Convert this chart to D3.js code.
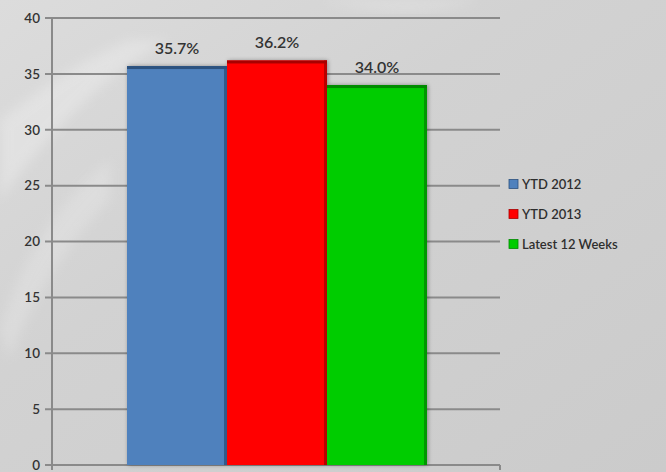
<!DOCTYPE html>
<html>
<head>
<meta charset="utf-8">
<script src="https://cdn.jsdelivr.net/npm/d3@7"></script>
<style>
  html, body { margin: 0; padding: 0; background: #cfcfcf; }
  svg { display: block; }
</style>
</head>
<body>
<svg id="chart" width="666" height="472"></svg>
<script>
// Series shown in the chart
const seriesNames = ["YTD 2012", "YTD 2013", "Latest 12 Weeks"];
const seriesValues = [35.7, 36.2, 34.0];
const seriesLabels = ["35.7%", "36.2%", "34.0%"];
const seriesColors = ["#4f81bd", "#ff0000", "#00cc00"];
const seriesEdges = ["#2c527f", "#a80000", "#008a00"];
const yTicks = [0, 5, 10, 15, 20, 25, 30, 35, 40];

const svg = d3.select("#chart");
const W = 666, H = 472;
const margin = { left: 52, right: 166, top: 18, bottom: 7 };
const plotL = margin.left, plotR = W - margin.right;
const plotT = margin.top, plotB = H - margin.bottom;
const font = "Lato, 'Open Sans', sans-serif";

// Background gradient with soft light streaks
const defs = svg.append("defs");
const bg = defs.append("linearGradient").attr("id", "bg")
  .attr("x1", "0").attr("y1", "0").attr("x2", "1").attr("y2", "1");
bg.append("stop").attr("offset", "0").attr("stop-color", "#dcdcdc");
bg.append("stop").attr("offset", "0.4").attr("stop-color", "#d2d2d2");
bg.append("stop").attr("offset", "1").attr("stop-color", "#cbcbcb");
svg.append("rect").attr("width", W).attr("height", H).attr("fill", "url(#bg)");

const blur = defs.append("filter").attr("id", "soft").attr("x", "-20%").attr("y", "-20%")
  .attr("width", "140%").attr("height", "140%");
blur.append("feGaussianBlur").attr("stdDeviation", 6);

svg.append("path")
  .attr("d", "M0,120 C40,90 80,60 130,40 L170,40 C110,70 50,130 0,200 Z")
  .attr("fill", "#ffffff").attr("opacity", 0.25).attr("filter", "url(#soft)");
svg.append("path")
  .attr("d", "M0,330 C20,260 60,200 110,160 L110,200 C70,240 30,300 10,360 Z")
  .attr("fill", "#ffffff").attr("opacity", 0.18).attr("filter", "url(#soft)");
svg.append("path")
  .attr("d", "M320,0 C360,10 420,20 480,0 Z")
  .attr("fill", "#ffffff").attr("opacity", 0.2).attr("filter", "url(#soft)");

// Scales
const y = d3.scaleLinear().domain([0, 40]).range([plotB, plotT]);
const x = d3.scaleBand().domain(seriesNames).range([127, 427]).padding(0);

// Gridlines
svg.append("g").selectAll("line").data(yTicks).join("line")
  .attr("x1", plotL - 7).attr("x2", plotR)
  .attr("y1", d => y(d)).attr("y2", d => y(d))
  .attr("stroke", "#8a8a8a").attr("stroke-width", 2);

// Axis lines
svg.append("line").attr("x1", plotL).attr("x2", plotL)
  .attr("y1", plotT).attr("y2", plotB + 5)
  .attr("stroke", "#8a8a8a").attr("stroke-width", 2);
svg.append("line").attr("x1", plotR).attr("x2", plotR)
  .attr("y1", plotB).attr("y2", plotB + 5)
  .attr("stroke", "#8a8a8a").attr("stroke-width", 2);

// Y tick labels
const yAxis = d3.axisLeft(y).tickValues(yTicks).tickSize(0).tickPadding(12);
const yg = svg.append("g").attr("transform", `translate(${plotL},0)`).call(yAxis);
yg.select(".domain").remove();
yg.selectAll("text")
  .attr("font-family", font).attr("font-weight", 600)
  .attr("font-size", 13.5).attr("fill", "#333333");

// Bar shadow
const sh = defs.append("filter").attr("id", "shadow").attr("x", "-10%").attr("y", "-10%")
  .attr("width", "120%").attr("height", "120%");
sh.append("feGaussianBlur").attr("in", "SourceAlpha").attr("stdDeviation", 2);
sh.append("feOffset").attr("dx", 1).attr("dy", 0).attr("result", "b");
sh.append("feComponentTransfer").append("feFuncA").attr("type", "linear").attr("slope", 0.35);
const merge = sh.append("feMerge");
merge.append("feMergeNode");
merge.append("feMergeNode").attr("in", "SourceGraphic");

const data = seriesNames.map((n, i) => ({
  name: n, value: seriesValues[i], label: seriesLabels[i],
  color: seriesColors[i], edge: seriesEdges[i]
}));

const bars = svg.append("g");
bars.selectAll("rect.bar").data(data).join("rect")
  .attr("class", "bar")
  .attr("x", d => x(d.name))
  .attr("y", d => y(d.value))
  .attr("width", x.bandwidth())
  .attr("height", d => y(0) - y(d.value))
  .attr("fill", d => d.color)
  .attr("filter", "url(#shadow)");

// Darker bevel along the top and right of each bar
bars.selectAll("rect.top").data(data).join("rect")
  .attr("x", d => x(d.name))
  .attr("y", d => y(d.value))
  .attr("width", x.bandwidth())
  .attr("height", 3)
  .attr("fill", d => d.edge);
bars.selectAll("rect.right").data(data).join("rect")
  .attr("x", d => x(d.name) + x.bandwidth() - 3)
  .attr("y", d => y(d.value))
  .attr("width", 3)
  .attr("height", d => y(0) - y(d.value))
  .attr("fill", d => d.edge).attr("opacity", 0.8);

// Value labels
svg.append("g").selectAll("text").data(data).join("text")
  .attr("x", d => x(d.name) + x.bandwidth() / 2)
  .attr("y", d => y(d.value) - 12)
  .attr("text-anchor", "middle")
  .attr("font-family", font).attr("font-weight", 600)
  .attr("font-size", 16).attr("fill", "#333333")
  .text(d => d.label);

// Legend
const legend = svg.append("g").attr("transform", "translate(509,0)");
const rowY = [184, 214, 244];
const lg = legend.selectAll("g").data(data).join("g")
  .attr("transform", (d, i) => `translate(0,${rowY[i]})`);
lg.append("rect").attr("x", 0).attr("y", -4.5).attr("width", 9).attr("height", 9)
  .attr("fill", d => d.color).attr("stroke", d => d.edge).attr("stroke-width", 0.8);
lg.append("text").attr("x", 13).attr("y", 0).attr("dy", "0.36em")
  .attr("font-family", font).attr("font-weight", 600)
  .attr("font-size", 13).attr("fill", "#2e2e2e")
  .text(d => d.name);
</script>
</body>
</html>
